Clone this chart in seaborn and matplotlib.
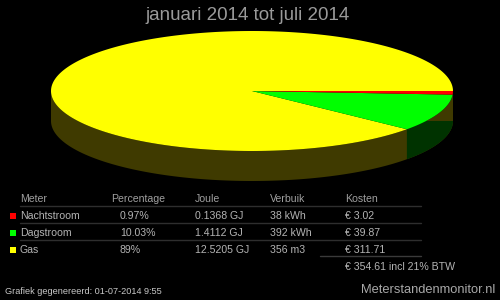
import numpy as np
import matplotlib
matplotlib.use("Agg")
import matplotlib.pyplot as plt
from matplotlib.patches import Polygon, Rectangle
import seaborn as sns

# ---- data ----
meters = ["Nachtstroom", "Dagstroom", "Gas"]
percent = [0.97, 10.03, 89.0]
percent_labels = ["0.97%", "10.03%", "89%"]
joule = ["0.1368 GJ", "1.4112 GJ", "12.5205 GJ"]
verbruik = ["38 kWh", "392 kWh", "356 m3"]
kosten = ["€ 3.02", "€ 39.87", "€ 311.71"]
totaal = "€ 354.61 incl 21% BTW"
headers = ["Meter", "Percentage", "Joule", "Verbuik", "Kosten"]
title = "januari 2014 tot juli 2014"
footer_left = "Grafiek gegenereerd: 01-07-2014 9:55"
footer_right = "Meterstandenmonitor.nl"

top_colors = ["#ff0000", "#00ff00", "#ffff00"]
side_colors = ["#3f0000", "#003300", "#3f3a00"]

sns.set_style("dark")
plt.rcParams["font.family"] = ["Liberation Sans", "DejaVu Sans"]

fig = plt.figure(figsize=(5, 3), dpi=100, facecolor="black")
ax = fig.add_axes([0, 0, 1, 1])
ax.set_facecolor("black")
ax.set_xlim(0, 500)
ax.set_ylim(300, 0)
ax.axis("off")

# 3D pie geometry (pixel space)
cx, cy, rx, ry, depth = 252, 91, 201, 60, 30

def pt(theta, dy=0.0):
    return (cx + rx * np.cos(theta), cy + dy + ry * np.sin(theta))

# slice angles (clockwise on screen from 3 o'clock)
fr = np.array(percent) / np.sum(percent)
edges = np.concatenate([[0], np.cumsum(fr)]) * 2 * np.pi

# front side band (olive)
th = np.linspace(0, np.pi, 200)
band = [pt(t) for t in th] + [pt(t, depth) for t in th[::-1]]
ax.add_patch(Polygon(band, closed=True, facecolor=side_colors[2], edgecolor="none"))

# green slice side
tg = edges[2]
xg = cx + rx * np.cos(tg)
th = np.linspace(0, tg, 80)
gside = [(xg, cy + depth), (cx + rx, cy + depth)] + [pt(t, depth) for t in th]
ax.add_patch(Polygon(gside, closed=True, facecolor=side_colors[1], edgecolor="none"))

# top faces
for i in [2, 1, 0]:
    a0, a1 = edges[i], edges[i + 1]
    th = np.linspace(a0, a1, max(4, int(300 * (a1 - a0) / (2 * np.pi)) + 2))
    poly = [(cx, cy)] + [pt(t) for t in th]
    ax.add_patch(Polygon(poly, closed=True, facecolor=top_colors[i], edgecolor="none"))

# title
ax.text(248, 15, title, color="#9a9a9a", fontsize=13.5, ha="center", va="center")

# table
txt = "#b4b4b4"
line_c = "#2e2e2e"
col_x = [20, 111, 195, 270, 345]
hy = 199
for x, h in zip(col_x, headers):
    ax.text(x, hy, h, color="#a0a0a0", fontsize=7.6, ha="left", va="center")
row_y = [216, 233, 250]
ax.plot([20, 421], [206, 206], color=line_c, lw=1)
ax.plot([20, 421], [222.5, 222.5], color=line_c, lw=1)
ax.plot([20, 421], [239.5, 239.5], color=line_c, lw=1)
ax.plot([320, 421], [256, 256], color="#3a3a3a", lw=1)
for i, y in enumerate(row_y):
    ax.add_patch(Rectangle((10, y - 3), 6, 6, facecolor=top_colors[i], edgecolor="none"))
    ax.text(20, y, meters[i], color=txt, fontsize=7.6, ha="left", va="center")
    ax.text(120, y, percent_labels[i], color=txt, fontsize=7.6, ha="left", va="center")
    ax.text(195, y, joule[i], color=txt, fontsize=7.6, ha="left", va="center")
    ax.text(270, y, verbruik[i], color=txt, fontsize=7.6, ha="left", va="center")
    ax.text(345, y, kosten[i], color=txt, fontsize=7.6, ha="left", va="center")
ax.text(345, 267, totaal, color=txt, fontsize=7.6, ha="left", va="center")

# footers
ax.text(5, 291, footer_left, color="#c8c8c8", fontsize=6.6, ha="left", va="center")
ax.text(495, 290, footer_right, color="#a8a8a8", fontsize=9.3, ha="right", va="center")

fig.savefig("out.png", dpi=100, facecolor="black")
